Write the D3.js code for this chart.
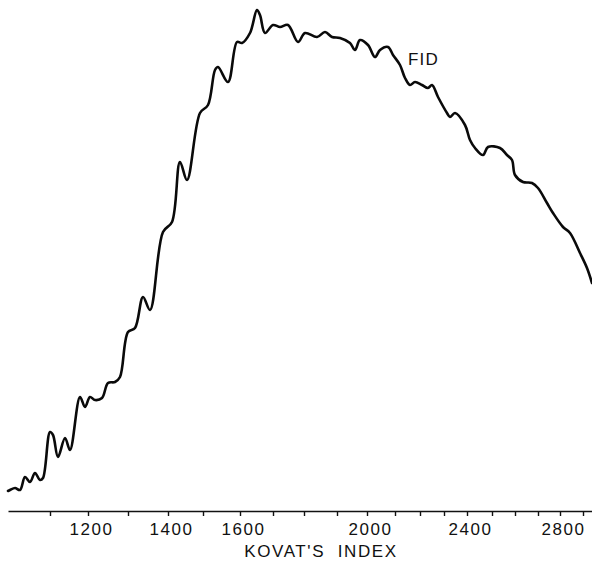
<!DOCTYPE html>
<html>
<head>
<meta charset="utf-8">
<script src="https://cdn.jsdelivr.net/npm/d3@7"></script>
<style>
  html, body { margin: 0; padding: 0; background: #fff; }
  svg { display: block; }
  text { font-family: "Liberation Sans", Arial, sans-serif; fill: #111; }
</style>
</head>
<body>
<svg id="chart" width="592" height="569"></svg>
<script>
// Retention time (min) of the n-alkane reference peaks and their Kovats index
const alkaneIndex = [1100, 1200, 1300, 1400, 1500, 1600, 1700, 1800, 1900, 2000, 2100, 2200, 2300, 2400, 2500, 2600, 2700, 2800, 2900];
const alkaneTime  = [4.2, 8.0, 12.0, 16.0, 19.5, 23.2, 26.5, 29.6, 32.9, 35.9, 38.7, 41.2, 43.6, 45.9, 48.4, 50.7, 53.0, 55.2, 57.5];
const labelledIndex = [1200, 1400, 1600, 2000, 2400, 2800];

// FID trace: retention time (min) and detector signal (relative units)
const traceTime = [0, 0.2, 0.7, 1.2, 1.7, 2.2, 2.7, 3.2, 3.5, 4.2, 4.5, 5.0, 5.7, 6.2, 7.2, 7.7, 8.2, 8.7, 9.4, 10.0,
  10.7, 11.2, 12.0, 12.7, 13.5, 14.2, 15.5, 16.4, 17.2, 17.9, 19.2, 20.0, 20.7, 21.0, 22.0, 22.9, 23.4, 24.2, 24.9, 25.2,
  25.7, 26.5, 27.2, 28.0, 29.0, 29.7, 30.9, 31.7, 32.4, 33.2, 34.2, 34.7, 35.2, 36.0, 36.7, 37.2, 38.0, 38.5, 39.2, 39.7,
  40.2, 40.7, 41.4, 42.0, 42.4, 43.0, 43.9, 44.2, 44.7, 45.7, 46.2, 46.7, 47.5, 48.0, 49.2, 49.9, 50.4, 50.7, 51.5, 52.4,
  53.0, 53.9, 54.5, 55.5, 56.2, 57.2, 57.9, 58.4];
const traceSignal = [4.0, 4.2, 4.6, 4.2, 6.8, 5.8, 7.6, 6.2, 6.6, 15.8, 15.2, 10.8, 14.6, 12.2, 22.8, 20.8, 22.8, 22.2, 22.6, 25.6,
  25.8, 26.8, 35.8, 36.6, 42.8, 40.2, 55.8, 57.8, 69.8, 66.2, 79.6, 81.2, 88.2, 88.8, 85.8, 93.8, 93.6, 95.6, 100.2, 99.2,
  95.6, 97.2, 96.8, 97.2, 93.8, 95.6, 94.8, 95.8, 94.8, 94.6, 93.6, 92.2, 94.2, 93.2, 90.8, 92.2, 92.8, 91.2, 89.2, 86.6,
  85.2, 85.8, 85.2, 84.6, 85.2, 82.8, 79.6, 78.8, 79.6, 77.2, 74.2, 72.6, 71.2, 72.8, 72.6, 71.2, 70.2, 67.2, 65.8, 65.6,
  64.6, 61.6, 59.6, 56.8, 55.6, 51.6, 48.6, 45.6];

const seriesLabel = "FID";
const axisTitle = "KOVAT'S  INDEX";

const svg = d3.select("#chart");
const x = d3.scaleLinear().domain([0, 58.4]).range([8, 592]);
const y = d3.scaleLinear().domain([0, 100]).range([511, 11]);

const indexOfTime = new Map(alkaneTime.map((t, i) => [t, alkaneIndex[i]]));

const axis = d3.axisBottom(x)
  .tickValues(alkaneTime)
  .tickSize(5)
  .tickSizeOuter(0)
  .tickPadding(7)
  .tickFormat(t => {
    const idx = indexOfTime.get(t);
    return labelledIndex.includes(idx) ? String(idx) : "";
  });

const gx = svg.append("g").attr("transform", `translate(0,${y(0)})`).call(axis);
gx.select(".domain").attr("stroke", "#111").attr("stroke-width", 1.6);
gx.selectAll(".tick line").attr("stroke", "#111").attr("stroke-width", 1.4);
gx.selectAll(".tick text")
  .attr("font-size", 17)
  .attr("letter-spacing", "1.6px")
  .attr("dx", "3px")
  .attr("fill", "#111")
  .style("font-family", "'Liberation Sans', Arial, sans-serif");

svg.append("text")
  .attr("x", 321)
  .attr("y", 557)
  .attr("text-anchor", "middle")
  .attr("font-size", 17)
  .attr("letter-spacing", "1.6px")
  .style("white-space", "pre")
  .text(axisTitle);

const pts = traceTime.map((t, i) => [t, traceSignal[i]]);
const line = d3.line()
  .x(d => x(d[0]))
  .y(d => y(d[1]))
  .curve(d3.curveCatmullRom.alpha(0.5));

svg.append("path")
  .datum(pts)
  .attr("fill", "none")
  .attr("stroke", "#0a0a0a")
  .attr("stroke-width", 2.6)
  .attr("stroke-linejoin", "round")
  .attr("stroke-linecap", "round")
  .attr("d", line);

svg.append("text")
  .attr("x", 408)
  .attr("y", 65)
  .attr("font-size", 17)
  .attr("letter-spacing", "1.2px")
  .text(seriesLabel);
</script>
</body>
</html>
